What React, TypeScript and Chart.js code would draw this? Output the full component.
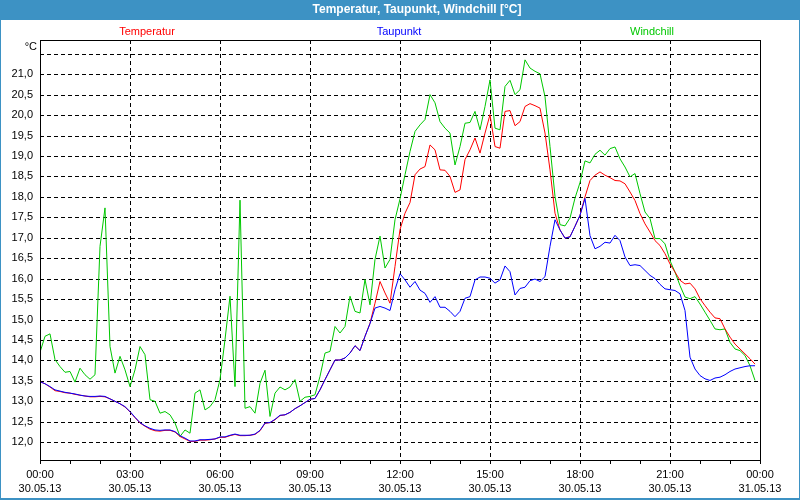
import React, { useEffect, useRef } from 'react';
import { Chart, registerables } from 'chart.js';

Chart.register(...registerables);

const FONT = '"Liberation Sans", Arial, sans-serif';
const TITLE = 'Temperatur, Taupunkt, Windchill [°C]';
const UNIT = '°C';

const seriesNames = ['Temperatur', 'Taupunkt', 'Windchill'];
const seriesColors = ['#ff0000', '#0000ff', '#00c800'];

const yTickValues = [12, 12.5, 13, 13.5, 14, 14.5, 15, 15.5, 16, 16.5, 17, 17.5, 18, 18.5, 19, 19.5, 20, 20.5, 21, 21.5];
const xTickHours = [0, 3, 6, 9, 12, 15, 18, 21, 24];
const xTimeLabels = ['00:00', '03:00', '06:00', '09:00', '12:00', '15:00', '18:00', '21:00', '00:00'];
const xDateLabels = ['30.05.13', '30.05.13', '30.05.13', '30.05.13', '30.05.13', '30.05.13', '30.05.13', '30.05.13', '31.05.13'];

// 10-minute readings, 00:00 .. 23:50
const temperatur = [
  13.48, 13.43, 13.35, 13.26, 13.24, 13.21, 13.20, 13.17, 13.15, 13.13, 13.11, 13.11,
  13.12, 13.11, 13.06, 13.00, 12.94, 12.86, 12.74, 12.60, 12.47, 12.39, 12.32, 12.28,
  12.27, 12.29, 12.29, 12.25, 12.14, 12.08, 12.02, 12.02, 12.05, 12.05, 12.06, 12.08,
  12.12, 12.12, 12.16, 12.19, 12.16, 12.16, 12.17, 12.19, 12.28, 12.46, 12.48, 12.55,
  12.65, 12.67, 12.73, 12.82, 12.89, 12.97, 13.05, 13.07, 13.28, 13.53, 13.77, 14.01,
  14.01, 14.06, 14.18, 14.36, 14.24, 14.59, 14.91, 15.40, 15.93, 15.65, 15.40, 16.30,
  17.20, 17.60, 17.86, 18.54, 18.68, 18.74, 19.27, 19.15, 18.66, 18.65, 18.50, 18.11,
  18.17, 18.91, 19.15, 19.44, 19.07, 19.56, 20.01, 19.23, 19.19, 20.09, 20.11, 19.74,
  19.84, 20.21, 20.28, 20.23, 20.17, 19.56, 18.66, 17.60, 17.19, 16.99, 17.03, 17.28,
  17.55, 18.00, 18.40, 18.53, 18.61, 18.53, 18.47, 18.40, 18.39, 18.32, 18.12, 17.91,
  17.59, 17.34, 17.14, 16.93, 16.81, 16.61, 16.36, 16.16, 15.96, 15.87, 15.89, 15.75,
  15.51, 15.34, 15.18, 15.04, 15.02, 14.77, 14.57, 14.40, 14.28, 14.16, 14.04, 13.91,
];

const taupunkt = [
  13.48, 13.43, 13.36, 13.28, 13.25, 13.22, 13.20, 13.18, 13.15, 13.13, 13.12, 13.12,
  13.13, 13.12, 13.06, 13.00, 12.94, 12.87, 12.75, 12.61, 12.48, 12.40, 12.34, 12.30,
  12.29, 12.30, 12.30, 12.26, 12.16, 12.10, 12.03, 12.03, 12.06, 12.06, 12.07, 12.08,
  12.13, 12.13, 12.17, 12.20, 12.17, 12.17, 12.17, 12.20, 12.29, 12.47, 12.48, 12.56,
  12.66, 12.67, 12.73, 12.82, 12.89, 12.97, 13.05, 13.07, 13.28, 13.53, 13.77, 14.01,
  14.01, 14.06, 14.18, 14.36, 14.24, 14.59, 14.90, 15.28, 15.32, 15.28, 15.22, 15.73,
  16.12, 15.97, 15.79, 15.93, 15.72, 15.64, 15.42, 15.56, 15.30, 15.30, 15.20, 15.07,
  15.20, 15.52, 15.56, 15.97, 16.04, 16.04, 16.01, 15.89, 15.97, 16.31, 16.17, 15.60,
  15.76, 15.79, 15.95, 15.99, 15.93, 16.05, 16.79, 17.44, 17.19, 16.99, 17.02, 17.28,
  17.55, 17.96, 17.05, 16.73, 16.79, 16.89, 16.87, 17.06, 16.93, 16.53, 16.32, 16.34,
  16.32, 16.20, 16.08, 16.00, 15.86, 15.75, 15.73, 15.71, 15.63, 15.22, 14.08, 13.79,
  13.63, 13.55, 13.51, 13.57, 13.59, 13.65, 13.73, 13.79, 13.82, 13.85, 13.87, 13.87,
];

const windchill = [
  14.20, 14.59, 14.65, 14.02, 13.85, 13.71, 13.73, 13.47, 13.81, 13.65, 13.54, 13.65,
  16.79, 17.73, 14.34, 13.69, 14.10, 13.77, 13.36, 13.77, 14.34, 14.14, 13.04, 13.00,
  12.71, 12.75, 12.67, 12.47, 12.14, 12.30, 12.22, 13.20, 13.28, 12.79, 12.87, 13.04,
  13.53, 14.51, 15.57, 13.36, 17.92, 12.83, 12.87, 12.71, 13.44, 13.76, 12.63, 13.20,
  13.35, 13.28, 13.35, 13.53, 13.00, 13.10, 13.12, 13.16, 13.61, 14.18, 14.22, 14.83,
  14.67, 14.83, 15.57, 15.20, 15.16, 15.98, 15.36, 16.47, 17.04, 16.26, 16.47, 17.44,
  17.95, 18.54, 19.11, 19.60, 19.76, 19.89, 20.50, 20.30, 19.84, 19.68, 19.56, 18.78,
  19.23, 19.80, 19.82, 20.09, 19.64, 20.21, 20.86, 19.68, 19.64, 20.70, 20.85, 20.50,
  20.62, 21.35, 21.15, 21.07, 21.01, 20.45, 19.23, 18.01, 17.32, 17.29, 17.48, 17.97,
  18.35, 18.88, 18.83, 19.04, 19.14, 19.02, 19.18, 19.22, 18.93, 18.73, 18.49, 18.57,
  18.08, 17.63, 17.47, 16.98, 16.98, 16.85, 16.44, 16.16, 15.83, 15.55, 15.51, 15.56,
  15.38, 15.18, 14.98, 14.77, 14.75, 14.77, 14.44, 14.28, 14.24, 14.12, 13.87, 13.51,
];

const Y_MIN = 11.565;
const Y_MAX = 21.836;

export default function App() {
  const canvasRef = useRef<HTMLCanvasElement>(null);

  useEffect(() => {
    if (!canvasRef.current) return;
    const hours = temperatur.map((_, i) => i / 6);
    const pts = (arr: number[]) => arr.map((v, i) => ({ x: hours[i], y: v }));

    const framePlugin = {
      id: 'framePlugin',
      beforeDraw(chart: any) {
        const { ctx, width, height } = chart;
        ctx.save();
        ctx.fillStyle = '#3d92c4';
        ctx.fillRect(0, 0, width, height);
        ctx.fillStyle = '#ffffff';
        ctx.fillRect(1, 20, width - 2, height - 22);
        ctx.fillStyle = '#ffffff';
        ctx.font = 'bold 12px ' + FONT;
        ctx.textAlign = 'center';
        ctx.textBaseline = 'middle';
        ctx.fillText(TITLE, 417, 10);
        ctx.font = '11px ' + FONT;
        const legendX = [147, 399, 652];
        seriesNames.forEach((n, i) => {
          ctx.fillStyle = seriesColors[i];
          ctx.fillText(n, legendX[i], 32);
        });
        ctx.fillStyle = '#000000';
        ctx.textAlign = 'right';
        ctx.fillText(UNIT, 37, 47);
        ctx.restore();
      },
      beforeDatasetsDraw(chart: any) {
        const { ctx, chartArea: a, scales } = chart;
        const x = scales.x;
        const y = scales.y;
        ctx.save();
        ctx.beginPath();
        ctx.setLineDash([4, 3]);
        ctx.strokeStyle = '#000000';
        ctx.lineWidth = 1;
        yTickValues.forEach((v) => {
          const py = Math.round(y.getPixelForValue(v)) + 0.5;
          ctx.moveTo(a.left, py);
          ctx.lineTo(a.right, py);
        });
        xTickHours.forEach((h) => {
          if (h > 0 && h < 24) {
            const px = Math.round(x.getPixelForValue(h)) + 0.5;
            ctx.moveTo(px, a.top);
            ctx.lineTo(px, a.bottom);
          }
        });
        ctx.stroke();
        ctx.restore();
      },
      afterDatasetsDraw(chart: any) {
        const { ctx, chartArea: a } = chart;
        ctx.save();
        ctx.strokeStyle = '#000000';
        ctx.lineWidth = 1;
        ctx.setLineDash([]);
        ctx.strokeRect(Math.round(a.left) + 0.5, Math.round(a.top) + 0.5, Math.round(a.right - a.left), Math.round(a.bottom - a.top));
        ctx.restore();
      },
    };

    const chart = new Chart(canvasRef.current, {
      type: 'line',
      data: {
        datasets: [
          { label: seriesNames[1], data: pts(taupunkt), borderColor: seriesColors[1], borderWidth: 1, pointRadius: 0, tension: 0, fill: false },
          { label: seriesNames[0], data: pts(temperatur), borderColor: seriesColors[0], borderWidth: 1, pointRadius: 0, tension: 0, fill: false },
          { label: seriesNames[2], data: pts(windchill), borderColor: seriesColors[2], borderWidth: 1, pointRadius: 0, tension: 0, fill: false },
        ],
      },
      options: {
        animation: false,
        responsive: false,
        maintainAspectRatio: false,
        layout: { padding: { top: 40, right: 40, left: 0, bottom: 0 } },
        plugins: { legend: { display: false }, title: { display: false }, tooltip: { enabled: false } },
        scales: {
          x: {
            type: 'linear',
            min: 0,
            max: 24,
            afterFit: (s: any) => { s.height = 40; },
            afterBuildTicks: (s: any) => {
              const t = [];
              for (let h = 0; h <= 24; h++) t.push({ value: h });
              s.ticks = t;
            },
            grid: { display: true, drawOnChartArea: false, drawTicks: true, tickLength: 4, color: '#000000', tickColor: '#000000' },
            border: { display: false },
            ticks: {
              autoSkip: false,
              maxRotation: 0,
              minRotation: 0,
              padding: 4,
              color: '#000000',
              font: { family: FONT, size: 11, lineHeight: 1.27 },
              callback: (v: any) => {
                const i = xTickHours.indexOf(Number(v));
                return i < 0 ? '' : [xTimeLabels[i], xDateLabels[i]];
              },
            },
          },
          y: {
            type: 'linear',
            min: Y_MIN,
            max: Y_MAX,
            afterFit: (s: any) => { s.width = 40; },
            afterBuildTicks: (s: any) => { s.ticks = yTickValues.map((value) => ({ value })); },
            grid: { display: false, drawTicks: false },
            border: { display: false },
            ticks: {
              padding: 7,
              color: '#000000',
              font: { family: FONT, size: 11 },
              callback: (v: any) => (Number(v) === 21.5 ? '' : Number(v).toFixed(1).replace('.', ',')),
            },
          },
        },
      },
      plugins: [framePlugin],
    });
    return () => chart.destroy();
  }, []);

  return (
    <div style={{ position: 'fixed', left: 0, top: 0, width: 800, height: 500 }}>
      <canvas ref={canvasRef} width={800} height={500} style={{ display: 'block', width: 800, height: 500 }} />
    </div>
  );
}
